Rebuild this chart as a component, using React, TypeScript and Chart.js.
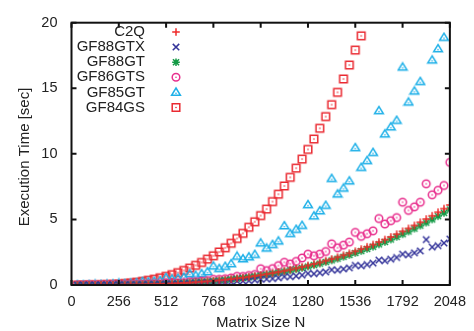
import React, { useEffect, useRef } from "react";
import { Chart, registerables } from "chart.js";

Chart.register(...registerables);

const sizeN = [32, 64, 96, 128, 160, 192, 224, 256, 288, 320, 352, 384, 416, 448, 480, 512,
  544, 576, 608, 640, 672, 704, 736, 768, 800, 832, 864, 896, 928, 960, 992, 1024,
  1056, 1088, 1120, 1152, 1184, 1216, 1248, 1280, 1312, 1344, 1376, 1408, 1440, 1472, 1504, 1536,
  1568, 1600, 1632, 1664, 1696, 1728, 1760, 1792, 1824, 1856, 1888, 1920, 1952, 1984, 2016, 2048];

const xTicks = [0, 256, 512, 768, 1024, 1280, 1536, 1792, 2048];
const yTicks = [0, 5, 10, 15, 20];

const c2q = [0.00, 0.00, 0.00, 0.00, 0.01, 0.01, 0.01, 0.02, 0.02, 0.03, 0.03, 0.04, 0.05, 0.06, 0.08, 0.10,
  0.11, 0.13, 0.16, 0.18, 0.21, 0.25, 0.28, 0.32, 0.36, 0.40, 0.45, 0.51, 0.56, 0.62, 0.69, 0.76,
  0.83, 0.91, 0.99, 1.08, 1.17, 1.27, 1.38, 1.49, 1.60, 1.72, 1.85, 1.98, 2.12, 2.27, 2.42, 2.57,
  2.74, 2.91, 3.08, 3.27, 3.46, 3.66, 3.87, 4.09, 4.31, 4.54, 4.78, 5.03, 5.28, 5.55, 5.82, 6.10];

const gf88gtx = [0.00, 0.00, 0.00, 0.00, 0.00, 0.01, 0.01, 0.01, 0.01, 0.02, 0.02, 0.03, 0.03, 0.04, 0.04, 0.06,
  0.06, 0.07, 0.08, 0.11, 0.11, 0.13, 0.15, 0.19, 0.19, 0.22, 0.24, 0.30, 0.30, 0.33, 0.37, 0.45,
  0.45, 0.49, 0.54, 0.64, 0.63, 0.69, 0.75, 0.88, 0.86, 0.93, 1.00, 1.16, 1.13, 1.22, 1.31, 1.50,
  1.46, 1.56, 1.67, 1.90, 1.85, 1.97, 2.10, 2.35, 2.30, 2.45, 2.60, 3.46, 2.89, 3.00, 3.20, 3.50];

const gf88gt = [0.00, 0.00, 0.00, 0.00, 0.01, 0.01, 0.01, 0.02, 0.02, 0.03, 0.03, 0.04, 0.05, 0.06, 0.07, 0.09,
  0.10, 0.12, 0.14, 0.17, 0.20, 0.23, 0.26, 0.30, 0.34, 0.38, 0.43, 0.48, 0.53, 0.59, 0.65, 0.72,
  0.79, 0.86, 0.94, 1.02, 1.11, 1.20, 1.30, 1.41, 1.52, 1.63, 1.75, 1.88, 2.01, 2.15, 2.29, 2.44,
  2.59, 2.75, 2.92, 3.10, 3.28, 3.47, 3.67, 3.87, 4.08, 4.30, 4.53, 4.76, 5.00, 5.25, 5.50, 5.76];

const gf86gts = [0.00, 0.00, 0.01, 0.01, 0.01, 0.02, 0.02, 0.03, 0.03, 0.04, 0.05, 0.06, 0.07, 0.09, 0.10, 0.15,
  0.14, 0.16, 0.19, 0.25, 0.26, 0.30, 0.34, 0.43, 0.43, 0.48, 0.54, 0.66, 0.65, 0.72, 0.80, 1.24,
  1.10, 1.25, 1.48, 1.73, 1.61, 1.80, 2.06, 2.35, 2.23, 2.35, 2.55, 3.14, 2.84, 3.04, 3.27, 4.01,
  3.71, 3.91, 4.13, 5.07, 4.65, 4.90, 5.14, 6.31, 5.69, 5.96, 6.31, 7.72, 6.88, 7.22, 7.59, 9.35];

const gf85gt = [0.01, 0.01, 0.02, 0.04, 0.03, 0.05, 0.07, 0.12, 0.10, 0.13, 0.16, 0.25, 0.22, 0.27, 0.32, 0.55,
  0.43, 0.50, 0.58, 0.85, 0.72, 0.85, 1.00, 1.43, 1.24, 1.41, 1.61, 2.18, 1.98, 2.13, 2.32, 3.19,
  2.80, 3.07, 3.34, 4.50, 3.91, 4.23, 4.53, 6.11, 5.25, 5.64, 6.06, 8.11, 6.92, 7.37, 7.92, 10.46,
  8.95, 9.47, 10.09, 13.28, 11.50, 12.04, 12.54, 16.60, 13.93, 14.77, 15.50, null, 17.14, 18.00, 18.87, null];

const gf84gs = [0.00, 0.00, 0.01, 0.01, 0.02, 0.03, 0.05, 0.08, 0.11, 0.16, 0.21, 0.28, 0.36, 0.44, 0.55, 0.66,
  0.79, 0.94, 1.11, 1.29, 1.50, 1.72, 1.97, 2.23, 2.52, 2.84, 3.18, 3.55, 3.94, 4.40, 4.82, 5.29,
  5.79, 6.36, 6.92, 7.55, 8.21, 8.91, 9.60, 10.34, 11.13, 11.95, 12.84, 13.75, 14.69, 15.71, 16.77, 17.91,
  19.00, null, null, null, null, null, null, null, null, null, null, null, null, null, null, null];

const seriesNames = ["C2Q", "GF88GTX", "GF88GT", "GF86GTS", "GF85GT", "GF84GS"];
const seriesColors = ["#ee2a2a", "#34349a", "#139a45", "#e8308e", "#1eb0e8", "#ea2a32"];
const seriesShapes = ["plus", "x", "star", "circle", "triangle", "square"];
const seriesData = [c2q, gf88gtx, gf88gt, gf86gts, gf85gt, gf84gs];

function drawShape(ctx: CanvasRenderingContext2D, shape: string, cx: number, cy: number, color: string) {
  ctx.save();
  ctx.strokeStyle = color;
  ctx.fillStyle = color;
  ctx.lineWidth = 1.5;
  const r = 3.8;
  ctx.beginPath();
  if (shape === "plus") {
    ctx.moveTo(cx - r, cy); ctx.lineTo(cx + r, cy);
    ctx.moveTo(cx, cy - r); ctx.lineTo(cx, cy + r);
    ctx.stroke();
  } else if (shape === "x") {
    const d = r * 0.85;
    ctx.moveTo(cx - d, cy - d); ctx.lineTo(cx + d, cy + d);
    ctx.moveTo(cx - d, cy + d); ctx.lineTo(cx + d, cy - d);
    ctx.stroke();
  } else if (shape === "star") {
    const d = r * 0.8;
    ctx.moveTo(cx - r, cy); ctx.lineTo(cx + r, cy);
    ctx.moveTo(cx, cy - r); ctx.lineTo(cx, cy + r);
    ctx.moveTo(cx - d, cy - d); ctx.lineTo(cx + d, cy + d);
    ctx.moveTo(cx - d, cy + d); ctx.lineTo(cx + d, cy - d);
    ctx.stroke();
  } else if (shape === "circle") {
    ctx.arc(cx, cy, r, 0, Math.PI * 2);
    ctx.stroke();
    ctx.beginPath();
    ctx.arc(cx, cy, 0.8, 0, Math.PI * 2);
    ctx.fill();
  } else if (shape === "triangle") {
    ctx.moveTo(cx, cy - r - 0.6);
    ctx.lineTo(cx + r + 0.6, cy + r * 0.75);
    ctx.lineTo(cx - r - 0.6, cy + r * 0.75);
    ctx.closePath();
    ctx.stroke();
    ctx.beginPath();
    ctx.arc(cx, cy + 0.8, 0.8, 0, Math.PI * 2);
    ctx.fill();
  } else if (shape === "square") {
    ctx.rect(cx - r, cy - r, 2 * r, 2 * r);
    ctx.stroke();
    ctx.beginPath();
    ctx.arc(cx, cy, 0.8, 0, Math.PI * 2);
    ctx.fill();
  }
  ctx.restore();
}

function makePointImage(shape: string, color: string): HTMLCanvasElement {
  const c = document.createElement("canvas");
  c.width = 12;
  c.height = 12;
  const ctx = c.getContext("2d")!;
  drawShape(ctx, shape, 6, 6, color);
  return c;
}

const FONT = "'Liberation Sans', Arial, sans-serif";

const framePlugin = {
  id: "gnuframe",
  afterDraw(chart: any) {
    const { ctx, chartArea } = chart;
    const xs = chart.scales.x;
    const ys = chart.scales.y;
    const { left, right, top, bottom } = chartArea;
    ctx.save();
    ctx.strokeStyle = "#111";
    ctx.lineWidth = 2;
    ctx.strokeRect(left, top, right - left, bottom - top);
    ctx.beginPath();
    const tl = 5;
    xTicks.forEach((v) => {
      const px = xs.getPixelForValue(v);
      ctx.moveTo(px, bottom); ctx.lineTo(px, bottom - tl);
      ctx.moveTo(px, top); ctx.lineTo(px, top + tl);
    });
    yTicks.forEach((v) => {
      const py = ys.getPixelForValue(v);
      ctx.moveTo(left, py); ctx.lineTo(left + tl, py);
      ctx.moveTo(right, py); ctx.lineTo(right - tl, py);
    });
    ctx.stroke();

    ctx.fillStyle = "#222";
    ctx.font = "15px " + FONT;
    ctx.textAlign = "center";
    ctx.textBaseline = "middle";
    ctx.fillText("Matrix Size N", (left + right) / 2, 323);
    ctx.save();
    ctx.translate(25, 157);
    ctx.rotate(-Math.PI / 2);
    ctx.fillText("Execution Time [sec]", 0, 0);
    ctx.restore();

    ctx.textAlign = "right";
    seriesNames.forEach((name, i) => {
      const y = 32 + i * 15.1;
      ctx.fillStyle = "#222";
      ctx.fillText(name, 145, y);
      drawShape(ctx, seriesShapes[i], 176, y, seriesColors[i]);
    });
    ctx.restore();
  },
};

export default function App() {
  const ref = useRef<HTMLCanvasElement | null>(null);
  useEffect(() => {
    document.body.style.margin = "0";
    const canvas = ref.current!;
    const datasets = seriesNames.map((name, i) => ({
      label: name,
      data: sizeN.map((n, j) => ({ x: n, y: seriesData[i][j] })),
      showLine: false,
      pointStyle: makePointImage(seriesShapes[i], seriesColors[i]),
      pointRadius: 4,
      borderColor: seriesColors[i],
      backgroundColor: seriesColors[i],
    }));
    const chart = new Chart(canvas, {
      type: "scatter",
      data: { datasets: datasets as any },
      plugins: [framePlugin],
      options: {
        animation: false,
        responsive: false,
        maintainAspectRatio: false,
        layout: { padding: { left: 0, right: 21.7, top: 15.5, bottom: 0 } },
        plugins: { legend: { display: false }, tooltip: { enabled: false } },
        scales: {
          x: {
            type: "linear",
            min: 0,
            max: 2048,
            grid: { display: false, drawTicks: false },
            border: { display: false },
            afterFit: (s: any) => { s.height = 46; },
            afterBuildTicks: (s: any) => { s.ticks = xTicks.map((v) => ({ value: v })); },
            ticks: {
              padding: 8,
              color: "#222",
              font: { family: FONT, size: 14.5 },
              maxRotation: 0,
              autoSkip: false,
              callback: (v: any) => String(v),
            },
          },
          y: {
            min: 0,
            max: 20,
            grid: { display: false, drawTicks: false },
            border: { display: false },
            afterFit: (s: any) => { s.width = 71.5; },
            afterBuildTicks: (s: any) => { s.ticks = yTicks.map((v) => ({ value: v })); },
            ticks: {
              padding: 14,
              color: "#222",
              font: { family: FONT, size: 14.5 },
              callback: (v: any) => String(v),
            },
          },
        },
      },
    });
    return () => chart.destroy();
  }, []);
  return (
    <div style={{ width: 474, height: 331 }}>
      <canvas ref={ref} width={474} height={331} style={{ display: "block" }} />
    </div>
  );
}
